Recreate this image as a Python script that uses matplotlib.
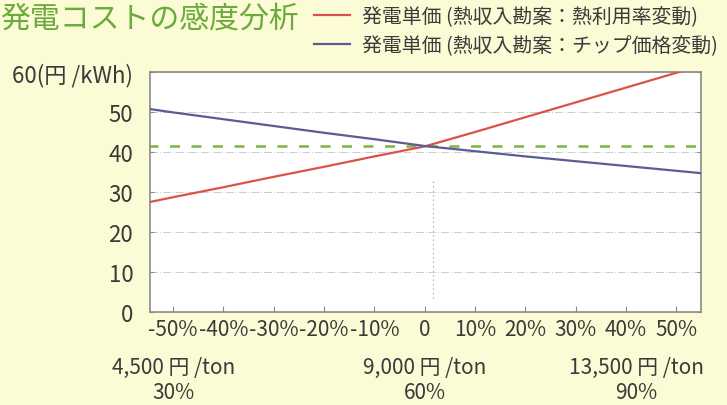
import matplotlib
matplotlib.use("Agg")
import matplotlib.pyplot as plt

plt.rcParams['font.family'] = ['Noto Sans CJK JP', 'DejaVu Sans']

# change rate (%) on the x axis
change = [-55, -50, -40, -30, -20, -10, 0, 10, 20, 30, 40, 50, 55]
# 発電単価 (円/kWh)
heat_rate_cost = [27.4, 28.7, 31.2, 33.8, 36.3, 38.9, 41.4, 45.0, 48.7, 52.4, 56.1, 59.8, 61.6]
chip_price_cost = [50.8, 49.9, 48.2, 46.5, 44.8, 43.2, 41.5, 40.2, 38.9, 37.7, 36.5, 35.3, 34.7]
base_x = [-55, 55]
base_cost = [41.6, 41.6]

x_ticks = [-50, -40, -30, -20, -10, 0, 10, 20, 30, 40, 50]
x_labels = ['-50%', '-40%', '-30%', '-20%', '-10%', '0', '10%', '20%', '30%', '40%', '50%']
y_ticks = [0, 10, 20, 30, 40, 50, 60]
y_labels = ['0', '10', '20', '30', '40', '50', '60(円 /kWh)']

# secondary scale under the axis
price_pos = [-50, 0, 42]
price_labels = ['4,500 円 /ton', '9,000 円 /ton', '13,500 円 /ton']
rate_labels = ['30%', '60%', '90%']

label_names = ['発電単価 (熱収入勘案：熱利用率変動)', '発電単価 (熱収入勘案：チップ価格変動)']

bg = '#fbfbd6'
text_col = '#3a3a3a'

fig = plt.figure(figsize=(7.27, 4.06), dpi=100, facecolor=bg)
ax = fig.add_axes([150 / 727, 1 - 313 / 406, 551 / 727, 240 / 406])
ax.set_facecolor('white')

ax.plot(change, heat_rate_cost, color='#d9534a', lw=1.6, label=label_names[0], zorder=3)
ax.plot(change, chip_price_cost, color='#5c5c94', lw=1.6, label=label_names[1], zorder=3)
ax.plot(base_x, base_cost, color='#7cb342', lw=1.8, linestyle=(0, (4, 4.6)), zorder=2)
ax.vlines(1.7, 3.5, 33, colors='#999999', lw=0.8, linestyles=(0, (1, 3)), zorder=1)

ax.set_xlim(-54.6, 54.9)
ax.set_ylim(0, 60)
ax.set_xticks(x_ticks)
ax.set_xticklabels(x_labels)
ax.set_yticks(y_ticks)
ax.set_yticklabels(y_labels)
ax.tick_params(axis='x', direction='in', length=4, width=0.8, color='#888888',
               labelsize=15, labelcolor=text_col, pad=4)
ax.tick_params(axis='y', direction='in', length=3, width=0.8, color='#888888',
               labelsize=16, labelcolor=text_col, pad=12, right=True)
ax.grid(axis='y', color='#cccccc', lw=0.7, linestyle=(0, (8, 2, 1, 2)))
for s in ax.spines.values():
    s.set_color('#8a8a8a')
    s.set_linewidth(1.2)

for x, p, r in zip(price_pos, price_labels, rate_labels):
    ax.text(x, -0.23, p, transform=ax.get_xaxis_transform(), ha='center', va='center',
            fontsize=15, color=text_col)
    ax.text(x, -0.335, r, transform=ax.get_xaxis_transform(), ha='center', va='center',
            fontsize=15, color=text_col)

fig.text(0, 1 - 19 / 406, '発電コストの感度分析', fontsize=21.5, color='#6aab3c',
         ha='left', va='center')

leg = ax.legend(loc='upper left', bbox_to_anchor=(314 / 727, 1 - 7 / 406),
                bbox_transform=fig.transFigure, frameon=False, fontsize=14.3,
                handlelength=1.8, handletextpad=0.6, labelspacing=0.4, borderpad=0,
                borderaxespad=0)
for t in leg.get_texts():
    t.set_color(text_col)

fig.savefig('out.png', dpi=100, facecolor=bg)
